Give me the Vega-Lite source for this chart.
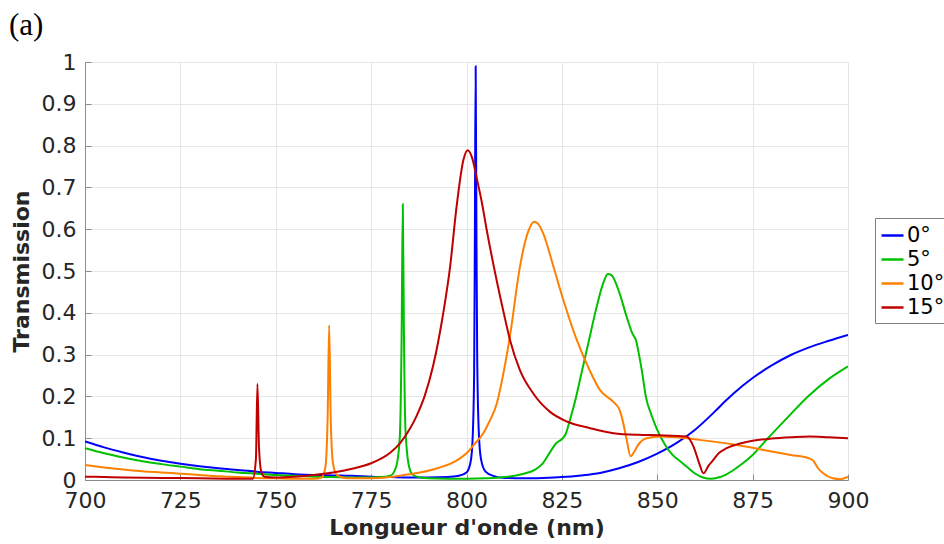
{
  "$schema": "https://vega.github.io/schema/vega-lite/v6.json",
  "autosize": {"type": "none"},
  "width": 763,
  "height": 418,
  "padding": {"left": 85, "top": 62, "right": 96, "bottom": 64},
  "background": "white",
  "title": {
    "text": "(a)",
    "anchor": "start",
    "frame": "group",
    "orient": "top",
    "font": "Liberation Serif",
    "fontSize": 31,
    "fontWeight": "normal",
    "color": "#000000",
    "baseline": "alphabetic",
    "offset": 27,
    "dx": -76,
    "dy": 42
  },
  "datasets": {
    "curves": [
      {"angle": "0°", "wl": 700, "T": 0.092},
      {"angle": "0°", "wl": 705, "T": 0.078},
      {"angle": "0°", "wl": 710, "T": 0.066},
      {"angle": "0°", "wl": 715, "T": 0.055},
      {"angle": "0°", "wl": 720, "T": 0.046},
      {"angle": "0°", "wl": 725, "T": 0.039},
      {"angle": "0°", "wl": 730, "T": 0.033},
      {"angle": "0°", "wl": 735, "T": 0.028},
      {"angle": "0°", "wl": 740, "T": 0.024},
      {"angle": "0°", "wl": 745, "T": 0.02},
      {"angle": "0°", "wl": 750, "T": 0.017},
      {"angle": "0°", "wl": 755, "T": 0.014},
      {"angle": "0°", "wl": 760, "T": 0.012},
      {"angle": "0°", "wl": 765, "T": 0.011},
      {"angle": "0°", "wl": 770, "T": 0.01},
      {"angle": "0°", "wl": 775, "T": 0.008},
      {"angle": "0°", "wl": 780, "T": 0.007},
      {"angle": "0°", "wl": 785, "T": 0.006},
      {"angle": "0°", "wl": 790, "T": 0.006},
      {"angle": "0°", "wl": 795, "T": 0.007},
      {"angle": "0°", "wl": 798, "T": 0.01},
      {"angle": "0°", "wl": 800, "T": 0.018},
      {"angle": "0°", "wl": 801, "T": 0.04},
      {"angle": "0°", "wl": 801.5, "T": 0.08},
      {"angle": "0°", "wl": 802, "T": 0.25},
      {"angle": "0°", "wl": 802.2, "T": 0.6},
      {"angle": "0°", "wl": 802.4, "T": 0.99},
      {"angle": "0°", "wl": 802.6, "T": 0.6},
      {"angle": "0°", "wl": 802.8, "T": 0.3},
      {"angle": "0°", "wl": 803.2, "T": 0.12},
      {"angle": "0°", "wl": 803.8, "T": 0.05},
      {"angle": "0°", "wl": 805, "T": 0.02},
      {"angle": "0°", "wl": 807, "T": 0.01},
      {"angle": "0°", "wl": 810, "T": 0.005},
      {"angle": "0°", "wl": 815, "T": 0.004},
      {"angle": "0°", "wl": 820, "T": 0.005},
      {"angle": "0°", "wl": 825, "T": 0.007},
      {"angle": "0°", "wl": 830, "T": 0.011},
      {"angle": "0°", "wl": 835, "T": 0.017},
      {"angle": "0°", "wl": 840, "T": 0.028},
      {"angle": "0°", "wl": 845, "T": 0.043},
      {"angle": "0°", "wl": 850, "T": 0.063},
      {"angle": "0°", "wl": 855, "T": 0.088},
      {"angle": "0°", "wl": 860, "T": 0.121},
      {"angle": "0°", "wl": 865, "T": 0.163},
      {"angle": "0°", "wl": 868, "T": 0.19},
      {"angle": "0°", "wl": 870, "T": 0.207},
      {"angle": "0°", "wl": 875, "T": 0.244},
      {"angle": "0°", "wl": 880, "T": 0.274},
      {"angle": "0°", "wl": 885, "T": 0.299},
      {"angle": "0°", "wl": 890, "T": 0.318},
      {"angle": "0°", "wl": 895, "T": 0.333},
      {"angle": "0°", "wl": 900, "T": 0.347},

      {"angle": "5°", "wl": 700, "T": 0.076},
      {"angle": "5°", "wl": 705, "T": 0.064},
      {"angle": "5°", "wl": 710, "T": 0.054},
      {"angle": "5°", "wl": 715, "T": 0.045},
      {"angle": "5°", "wl": 720, "T": 0.038},
      {"angle": "5°", "wl": 725, "T": 0.032},
      {"angle": "5°", "wl": 730, "T": 0.026},
      {"angle": "5°", "wl": 735, "T": 0.022},
      {"angle": "5°", "wl": 740, "T": 0.018},
      {"angle": "5°", "wl": 745, "T": 0.015},
      {"angle": "5°", "wl": 750, "T": 0.012},
      {"angle": "5°", "wl": 755, "T": 0.01},
      {"angle": "5°", "wl": 760, "T": 0.008},
      {"angle": "5°", "wl": 765, "T": 0.007},
      {"angle": "5°", "wl": 770, "T": 0.006},
      {"angle": "5°", "wl": 775, "T": 0.006},
      {"angle": "5°", "wl": 778, "T": 0.007},
      {"angle": "5°", "wl": 780, "T": 0.01},
      {"angle": "5°", "wl": 781.5, "T": 0.03},
      {"angle": "5°", "wl": 782.5, "T": 0.1},
      {"angle": "5°", "wl": 783, "T": 0.35},
      {"angle": "5°", "wl": 783.3, "T": 0.66},
      {"angle": "5°", "wl": 783.6, "T": 0.35},
      {"angle": "5°", "wl": 784, "T": 0.12},
      {"angle": "5°", "wl": 785, "T": 0.03},
      {"angle": "5°", "wl": 786, "T": 0.012},
      {"angle": "5°", "wl": 788, "T": 0.006},
      {"angle": "5°", "wl": 790, "T": 0.004},
      {"angle": "5°", "wl": 795, "T": 0.003},
      {"angle": "5°", "wl": 800, "T": 0.003},
      {"angle": "5°", "wl": 805, "T": 0.004},
      {"angle": "5°", "wl": 810, "T": 0.007},
      {"angle": "5°", "wl": 815, "T": 0.015},
      {"angle": "5°", "wl": 818, "T": 0.025},
      {"angle": "5°", "wl": 820, "T": 0.04},
      {"angle": "5°", "wl": 822, "T": 0.068},
      {"angle": "5°", "wl": 823.5, "T": 0.088},
      {"angle": "5°", "wl": 825, "T": 0.098},
      {"angle": "5°", "wl": 826, "T": 0.11},
      {"angle": "5°", "wl": 827, "T": 0.14},
      {"angle": "5°", "wl": 828.5, "T": 0.19},
      {"angle": "5°", "wl": 830, "T": 0.25},
      {"angle": "5°", "wl": 832, "T": 0.33},
      {"angle": "5°", "wl": 834, "T": 0.41},
      {"angle": "5°", "wl": 836, "T": 0.475},
      {"angle": "5°", "wl": 837, "T": 0.493},
      {"angle": "5°", "wl": 838, "T": 0.49},
      {"angle": "5°", "wl": 840, "T": 0.45},
      {"angle": "5°", "wl": 842, "T": 0.39},
      {"angle": "5°", "wl": 843.5, "T": 0.35},
      {"angle": "5°", "wl": 844.5, "T": 0.332},
      {"angle": "5°", "wl": 845, "T": 0.31},
      {"angle": "5°", "wl": 846, "T": 0.26},
      {"angle": "5°", "wl": 847, "T": 0.2},
      {"angle": "5°", "wl": 848.5, "T": 0.155},
      {"angle": "5°", "wl": 850, "T": 0.12},
      {"angle": "5°", "wl": 852, "T": 0.085},
      {"angle": "5°", "wl": 854, "T": 0.06},
      {"angle": "5°", "wl": 856, "T": 0.045},
      {"angle": "5°", "wl": 858, "T": 0.03},
      {"angle": "5°", "wl": 860, "T": 0.015},
      {"angle": "5°", "wl": 862, "T": 0.006},
      {"angle": "5°", "wl": 864, "T": 0.003},
      {"angle": "5°", "wl": 866, "T": 0.006},
      {"angle": "5°", "wl": 868, "T": 0.013},
      {"angle": "5°", "wl": 870, "T": 0.024},
      {"angle": "5°", "wl": 872, "T": 0.037},
      {"angle": "5°", "wl": 875, "T": 0.06},
      {"angle": "5°", "wl": 879, "T": 0.1},
      {"angle": "5°", "wl": 884, "T": 0.148},
      {"angle": "5°", "wl": 889.5, "T": 0.2},
      {"angle": "5°", "wl": 895, "T": 0.242},
      {"angle": "5°", "wl": 900, "T": 0.272},

      {"angle": "10°", "wl": 700, "T": 0.036},
      {"angle": "10°", "wl": 705, "T": 0.03},
      {"angle": "10°", "wl": 710, "T": 0.025},
      {"angle": "10°", "wl": 715, "T": 0.021},
      {"angle": "10°", "wl": 720, "T": 0.018},
      {"angle": "10°", "wl": 725, "T": 0.015},
      {"angle": "10°", "wl": 730, "T": 0.012},
      {"angle": "10°", "wl": 735, "T": 0.009},
      {"angle": "10°", "wl": 740, "T": 0.007},
      {"angle": "10°", "wl": 745, "T": 0.005},
      {"angle": "10°", "wl": 750, "T": 0.004},
      {"angle": "10°", "wl": 755, "T": 0.003},
      {"angle": "10°", "wl": 760, "T": 0.003},
      {"angle": "10°", "wl": 762, "T": 0.006},
      {"angle": "10°", "wl": 763, "T": 0.03},
      {"angle": "10°", "wl": 763.6, "T": 0.15},
      {"angle": "10°", "wl": 764, "T": 0.37},
      {"angle": "10°", "wl": 764.4, "T": 0.15},
      {"angle": "10°", "wl": 765, "T": 0.04},
      {"angle": "10°", "wl": 766, "T": 0.012},
      {"angle": "10°", "wl": 768, "T": 0.005},
      {"angle": "10°", "wl": 770, "T": 0.004},
      {"angle": "10°", "wl": 775, "T": 0.004},
      {"angle": "10°", "wl": 780, "T": 0.007},
      {"angle": "10°", "wl": 783, "T": 0.011},
      {"angle": "10°", "wl": 786, "T": 0.015},
      {"angle": "10°", "wl": 790, "T": 0.022},
      {"angle": "10°", "wl": 793, "T": 0.03},
      {"angle": "10°", "wl": 796, "T": 0.04},
      {"angle": "10°", "wl": 798, "T": 0.05},
      {"angle": "10°", "wl": 800, "T": 0.064},
      {"angle": "10°", "wl": 802, "T": 0.085},
      {"angle": "10°", "wl": 804.4, "T": 0.112},
      {"angle": "10°", "wl": 806, "T": 0.14},
      {"angle": "10°", "wl": 808, "T": 0.185},
      {"angle": "10°", "wl": 809, "T": 0.225},
      {"angle": "10°", "wl": 811.4, "T": 0.345},
      {"angle": "10°", "wl": 814, "T": 0.51},
      {"angle": "10°", "wl": 816, "T": 0.59},
      {"angle": "10°", "wl": 817.8, "T": 0.618},
      {"angle": "10°", "wl": 819, "T": 0.61},
      {"angle": "10°", "wl": 820.1, "T": 0.59},
      {"angle": "10°", "wl": 822.8, "T": 0.51},
      {"angle": "10°", "wl": 825.4, "T": 0.43},
      {"angle": "10°", "wl": 828.9, "T": 0.335},
      {"angle": "10°", "wl": 832.4, "T": 0.26},
      {"angle": "10°", "wl": 835, "T": 0.215},
      {"angle": "10°", "wl": 838.5, "T": 0.187},
      {"angle": "10°", "wl": 840, "T": 0.17},
      {"angle": "10°", "wl": 840.7, "T": 0.151},
      {"angle": "10°", "wl": 842, "T": 0.096},
      {"angle": "10°", "wl": 843, "T": 0.057},
      {"angle": "10°", "wl": 844, "T": 0.068},
      {"angle": "10°", "wl": 845, "T": 0.084},
      {"angle": "10°", "wl": 847.2, "T": 0.1},
      {"angle": "10°", "wl": 850.7, "T": 0.104},
      {"angle": "10°", "wl": 855, "T": 0.102},
      {"angle": "10°", "wl": 861, "T": 0.096},
      {"angle": "10°", "wl": 870, "T": 0.085},
      {"angle": "10°", "wl": 875, "T": 0.077},
      {"angle": "10°", "wl": 880, "T": 0.068},
      {"angle": "10°", "wl": 885, "T": 0.06},
      {"angle": "10°", "wl": 890, "T": 0.051},
      {"angle": "10°", "wl": 891, "T": 0.045},
      {"angle": "10°", "wl": 892, "T": 0.03},
      {"angle": "10°", "wl": 893.5, "T": 0.016},
      {"angle": "10°", "wl": 896, "T": 0.004},
      {"angle": "10°", "wl": 898, "T": 0.002},
      {"angle": "10°", "wl": 900, "T": 0.008},

      {"angle": "15°", "wl": 700, "T": 0.008},
      {"angle": "15°", "wl": 705, "T": 0.007},
      {"angle": "15°", "wl": 710, "T": 0.006},
      {"angle": "15°", "wl": 720, "T": 0.005},
      {"angle": "15°", "wl": 730, "T": 0.004},
      {"angle": "15°", "wl": 740, "T": 0.003},
      {"angle": "15°", "wl": 744, "T": 0.003},
      {"angle": "15°", "wl": 744.8, "T": 0.05},
      {"angle": "15°", "wl": 745.2, "T": 0.23},
      {"angle": "15°", "wl": 745.6, "T": 0.08},
      {"angle": "15°", "wl": 746.2, "T": 0.02},
      {"angle": "15°", "wl": 747, "T": 0.008},
      {"angle": "15°", "wl": 750, "T": 0.006},
      {"angle": "15°", "wl": 755, "T": 0.008},
      {"angle": "15°", "wl": 760, "T": 0.012},
      {"angle": "15°", "wl": 765, "T": 0.018},
      {"angle": "15°", "wl": 770, "T": 0.027},
      {"angle": "15°", "wl": 775, "T": 0.04},
      {"angle": "15°", "wl": 780, "T": 0.065},
      {"angle": "15°", "wl": 782.6, "T": 0.088},
      {"angle": "15°", "wl": 785, "T": 0.12},
      {"angle": "15°", "wl": 786.9, "T": 0.153},
      {"angle": "15°", "wl": 789, "T": 0.2},
      {"angle": "15°", "wl": 791.3, "T": 0.275},
      {"angle": "15°", "wl": 793.9, "T": 0.399},
      {"angle": "15°", "wl": 795.7, "T": 0.51},
      {"angle": "15°", "wl": 797.4, "T": 0.654},
      {"angle": "15°", "wl": 799.2, "T": 0.766},
      {"angle": "15°", "wl": 800.3, "T": 0.789},
      {"angle": "15°", "wl": 801.5, "T": 0.77},
      {"angle": "15°", "wl": 802.6, "T": 0.726},
      {"angle": "15°", "wl": 804, "T": 0.665},
      {"angle": "15°", "wl": 805.3, "T": 0.598},
      {"angle": "15°", "wl": 807.9, "T": 0.478},
      {"angle": "15°", "wl": 810, "T": 0.39},
      {"angle": "15°", "wl": 811.4, "T": 0.335},
      {"angle": "15°", "wl": 814, "T": 0.263},
      {"angle": "15°", "wl": 817.5, "T": 0.207},
      {"angle": "15°", "wl": 821.9, "T": 0.163},
      {"angle": "15°", "wl": 826.3, "T": 0.14},
      {"angle": "15°", "wl": 832.4, "T": 0.124},
      {"angle": "15°", "wl": 838.5, "T": 0.112},
      {"angle": "15°", "wl": 845, "T": 0.108},
      {"angle": "15°", "wl": 850.7, "T": 0.107},
      {"angle": "15°", "wl": 857.7, "T": 0.104},
      {"angle": "15°", "wl": 859.5, "T": 0.08},
      {"angle": "15°", "wl": 861, "T": 0.04},
      {"angle": "15°", "wl": 862.1, "T": 0.016},
      {"angle": "15°", "wl": 863.5, "T": 0.035},
      {"angle": "15°", "wl": 864.7, "T": 0.048},
      {"angle": "15°", "wl": 866, "T": 0.063},
      {"angle": "15°", "wl": 868.2, "T": 0.076},
      {"angle": "15°", "wl": 872, "T": 0.088},
      {"angle": "15°", "wl": 875, "T": 0.094},
      {"angle": "15°", "wl": 880, "T": 0.099},
      {"angle": "15°", "wl": 885, "T": 0.102},
      {"angle": "15°", "wl": 890, "T": 0.104},
      {"angle": "15°", "wl": 895, "T": 0.102},
      {"angle": "15°", "wl": 900, "T": 0.1}
    ]
  },
  "data": {"name": "curves"},
  "mark": {"type": "line", "strokeWidth": 2, "interpolate": "monotone", "clip": true},
  "encoding": {
    "x": {
      "field": "wl",
      "type": "quantitative",
      "scale": {"domain": [700, 900], "nice": false, "zero": false},
      "axis": {
        "title": "Longueur d'onde (nm)",
        "values": [700, 725, 750, 775, 800, 825, 850, 875, 900],
        "format": "d",
        "labelFlush": false,
        "tickSize": -6,
        "labelPadding": 16,
        "titlePadding": 6
      }
    },
    "y": {
      "field": "T",
      "type": "quantitative",
      "scale": {"domain": [0, 1], "nice": false},
      "axis": {
        "title": "Transmission",
        "values": [0, 0.1, 0.2, 0.3, 0.4, 0.5, 0.6, 0.7, 0.8, 0.9, 1],
        "format": ".1~f",
        "labelFlush": false,
        "tickSize": -6,
        "labelPadding": 15,
        "titlePadding": 8
      }
    },
    "color": {
      "field": "angle",
      "type": "nominal",
      "sort": ["0°", "5°", "10°", "15°"],
      "scale": {"domain": ["0°", "5°", "10°", "15°"], "range": ["#0000FF", "#00C000", "#FF8000", "#C00000"]},
      "legend": {
        "title": null,
        "orient": "none",
        "legendX": 790,
        "legendY": 156,
        "strokeColor": "#808080",
        "fillColor": "white",
        "padding": 5,
        "symbolType": "stroke",
        "symbolSize": 484,
        "symbolStrokeWidth": 2.5,
        "labelFontSize": 21,
        "labelFont": "DejaVu Sans",
        "labelColor": "#000000",
        "labelOffset": 2,
        "rowPadding": 1
      }
    }
  },
  "config": {
    "view": {"stroke": null},
    "axis": {
      "labelFont": "DejaVu Sans",
      "labelFontSize": 22,
      "labelColor": "#262626",
      "titleFont": "DejaVu Sans",
      "titleFontSize": 22,
      "titleFontWeight": "bold",
      "titleColor": "#262626",
      "domainColor": "#8c8c8c",
      "domainWidth": 1,
      "tickColor": "#8c8c8c",
      "gridColor": "#e6e6e6",
      "gridWidth": 1,
      "grid": true
    }
  }
}
